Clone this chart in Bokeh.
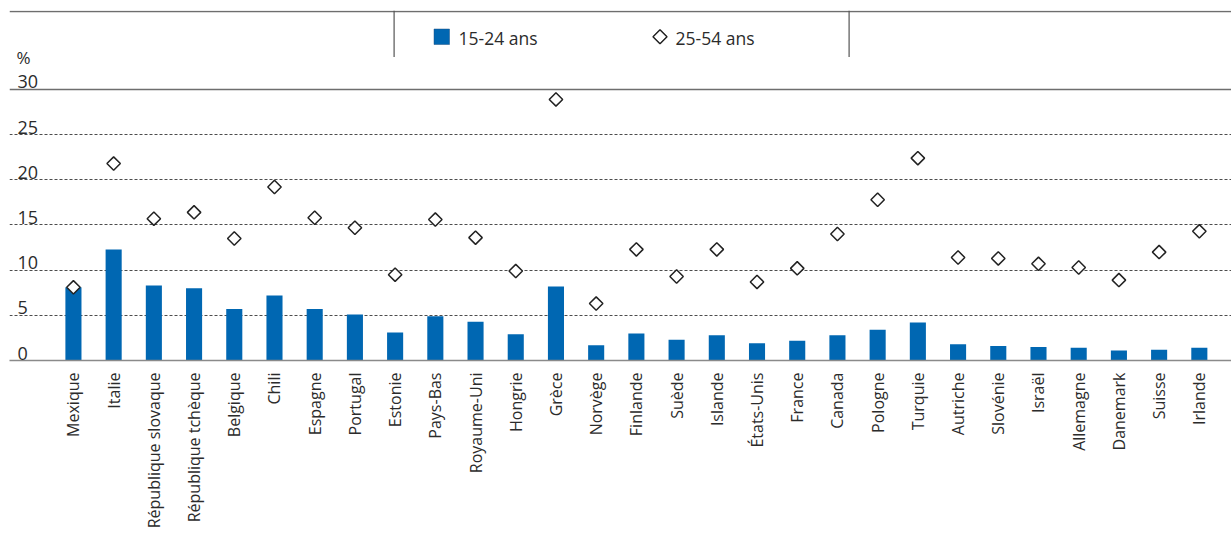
import math
from bokeh.plotting import figure
from bokeh.models import (Range1d, Label, Span, BoxAnnotation, PolyAnnotation,
                          FixedTicker, Grid, LinearAxis)
from bokeh.embed import file_html
from bokeh.resources import INLINE

countries = ["Mexique", "Italie", "République slovaque", "République tchèque", "Belgique",
             "Chili", "Espagne", "Portugal", "Estonie", "Pays-Bas", "Royaume-Uni", "Hongrie",
             "Grèce", "Norvège", "Finlande", "Suède", "Islande", "États-Unis", "France",
             "Canada", "Pologne", "Turquie", "Autriche", "Slovénie", "Israël", "Allemagne",
             "Danemark", "Suisse", "Irlande"]
youth_15_24 = [8.1, 12.3, 8.3, 8.0, 5.7, 7.2, 5.7, 5.1, 3.1, 4.9, 4.3, 2.9, 8.2, 1.7, 3.0,
               2.3, 2.8, 1.9, 2.2, 2.8, 3.4, 4.2, 1.8, 1.6, 1.5, 1.4, 1.1, 1.2, 1.4]
prime_25_54 = [8.1, 21.8, 15.7, 16.4, 13.5, 19.2, 15.8, 14.7, 9.5, 15.6, 13.6, 9.9, 28.9, 6.3,
               12.3, 9.3, 12.3, 8.7, 10.2, 14.0, 17.8, 22.4, 11.4, 11.3, 10.7, 10.3, 8.9, 12.0, 14.3]
y_ticks = [0, 5, 10, 15, 20, 25, 30]
series_labels = ["15-24 ans", "25-54 ans"]

FONT = "Open Sans"
TXT = "#2b2b2b"
BLUE = "#0067b2"

xs = list(range(len(countries)))

p = figure(width=1231, height=533, output_backend="svg", toolbar_location=None,
           x_range=Range1d(-1.59, 28.8), y_range=Range1d(0, 38.745),
           y_axis_location=None, x_axis_location=None,
           min_border_left=9, min_border_right=0, min_border_top=10, min_border_bottom=173)
p.outline_line_color = None
p.background_fill_color = "white"
p.center = []  # drop default grids

# x axis
xaxis = LinearAxis(ticker=FixedTicker(ticks=xs),
                   major_label_overrides={i: c for i, c in enumerate(countries)})
xaxis.major_label_orientation = math.pi / 2
xaxis.major_tick_out = 0
xaxis.major_tick_in = 0
xaxis.minor_tick_out = 0
xaxis.minor_tick_in = 0
xaxis.major_label_standoff = 12
xaxis.axis_line_color = "#8a8a8a"
xaxis.axis_line_width = 1.5
xaxis.major_label_text_font = FONT
xaxis.major_label_text_font_size = "16px"
xaxis.major_label_text_color = TXT
p.add_layout(xaxis, "below")

# grids
dashed = Grid(dimension=1, ticker=FixedTicker(ticks=[t for t in y_ticks if 0 < t < max(y_ticks)]),
              grid_line_color="#4d4d4d", grid_line_dash="3 2", grid_line_width=1)
solid = Grid(dimension=1, ticker=FixedTicker(ticks=[max(y_ticks)]),
             grid_line_color="#6e6e6e", grid_line_width=1.5)
p.add_layout(dashed)
p.add_layout(solid)

# top border line
p.add_layout(Span(location=349.0, location_units="screen", dimension="width",
                  line_color="#6e6e6e", line_width=1.5))
# legend box vertical separators
for lx in (384, 839):
    p.add_layout(BoxAnnotation(left=lx, right=lx + 1.2, bottom=303.5, top=350,
                               left_units="screen", right_units="screen",
                               bottom_units="screen", top_units="screen",
                               fill_color="#555555", fill_alpha=1, line_color=None))

bars = p.vbar(x=xs, top=youth_15_24, width=0.4, fill_color=BLUE, line_color=None)
pts = p.scatter(x=xs, y=prime_25_54, marker="square", angle=math.pi / 4, size=9.5,
                fill_color="white", line_color="#222222", line_width=1.5)

# y tick labels drawn inside the plot
for t in y_ticks:
    p.add_layout(Label(x=8, x_units="screen", y=t, text=str(t), text_baseline="bottom",
                       y_offset=1, text_font=FONT, text_font_size="18px", text_color=TXT))
p.add_layout(Label(x=7, x_units="screen", y=max(y_ticks), text="%", text_baseline="bottom",
                   y_offset=20, text_font=FONT, text_font_size="17px", text_color=TXT))

# legend (swatches + labels)
p.add_layout(BoxAnnotation(left=424.5, right=440, bottom=316, top=331.5,
                           left_units="screen", right_units="screen",
                           bottom_units="screen", top_units="screen",
                           fill_color=BLUE, fill_alpha=1, line_color="#1a4f80",
                           line_alpha=0.6, line_width=0.8))
cx, cy, r = 650.5, 323.7, 7
p.add_layout(PolyAnnotation(xs=[cx, cx + r, cx, cx - r], ys=[cy + r, cy, cy - r, cy],
                            xs_units="screen", ys_units="screen",
                            fill_color="white", fill_alpha=1, line_color="#222222",
                            line_alpha=1, line_width=1.5))
for lx, txt in zip((449, 666), series_labels):
    p.add_layout(Label(x=lx, y=322.5, x_units="screen", y_units="screen", text=txt,
                       text_baseline="middle", text_font=FONT, text_font_size="17.5px",
                       text_color=TXT))

open("out.html", "w").write(file_html(p, INLINE))
